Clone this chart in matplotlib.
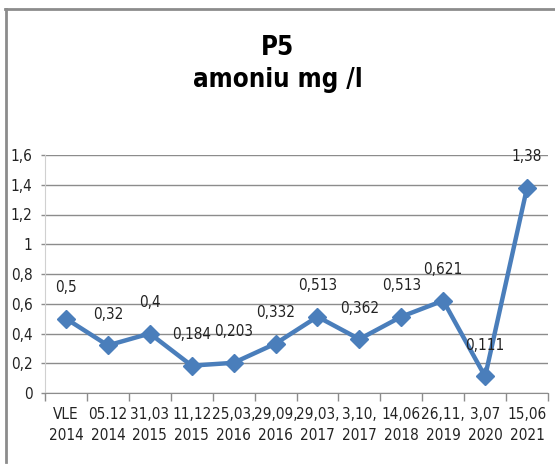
import matplotlib
matplotlib.use('Agg')
import matplotlib.pyplot as plt
from matplotlib.lines import Line2D
import numpy as np

plt.rcParams['font.family'] = ['DejaVu Sans']
plt.rcParams['font.stretch'] = 'condensed'

# date de prelevare si valori amoniu (mg/l)
dates = ['VLE\n2014', '05.12\n2014', '31,03\n2015', '11,12\n2015', '25,03,\n2016',
         '29,09,\n2016', '29,03,\n2017', '3,10,\n2017', '14,06\n2018', '26,11,\n2019',
         '3,07\n2020', '15,06\n2021']
values = [0.5, 0.32, 0.4, 0.184, 0.203, 0.332, 0.513, 0.362, 0.513, 0.621, 0.111, 1.38]
labels = ['0,5', '0,32', '0,4', '0,184', '0,203', '0,332', '0,513', '0,362', '0,513',
          '0,621', '0,111', '1,38']
yticks = [0, 0.2, 0.4, 0.6, 0.8, 1.0, 1.2, 1.4, 1.6]
ytick_labels = ['0', '0,2', '0,4', '0,6', '0,8', '1', '1,2', '1,4', '1,6']

W, H = 555, 468
fig = plt.figure(figsize=(W / 100, H / 100), dpi=100)
ax = fig.add_axes([45 / W, (H - 393) / H, (548 - 45) / W, (393 - 155) / H])

x = np.arange(len(values))
blue = '#4a7ebb'
ax.plot(x, values, color=blue, lw=3.2, marker='D', ms=9.5, mfc=blue, mec=blue, zorder=3)

for xi, v, lab in zip(x, values, labels):
    ax.annotate(lab, (xi, v), xytext=(0, 31), textcoords='offset pixels',
                ha='center', va='center', fontsize=11, color='#222222')

ax.set_xlim(-0.5, len(values) - 0.5)
ax.set_ylim(0, 1.6)
ax.set_yticks(yticks)
ax.set_yticklabels(ytick_labels)
ax.set_xticks(x)
ax.set_xticklabels(dates, linespacing=1.5)
ax.set_xticks(np.arange(-0.5, len(values)), minor=True)
ax.tick_params(axis='x', which='major', length=0, pad=10, labelsize=11, labelcolor='#222222')
ax.tick_params(axis='x', which='minor', length=6, width=1, color='#8c8c8c')
ax.tick_params(axis='y', length=3, width=1, color='#8c8c8c', pad=6, labelsize=11,
               labelcolor='#222222')

ax.grid(axis='y', color='#8c8c8c', lw=1)
ax.set_axisbelow(True)
for s in ['top', 'right']:
    ax.spines[s].set_visible(False)
ax.spines['left'].set_color('#d0d0d0')
ax.spines['bottom'].set_color('#8c8c8c')

fig.text(0.5, (H - 48) / H, 'P5', ha='center', va='center', fontsize=18.5, fontweight='bold')
fig.text(0.5, (H - 80) / H, 'amoniu mg /l', ha='center', va='center', fontsize=18.5,
         fontweight='bold')

# chenarul graficului
fig.add_artist(Line2D([5 / W, 1], [(H - 9) / H, (H - 9) / H], transform=fig.transFigure,
                      color='#8c8c8c', lw=2))
fig.add_artist(Line2D([6 / W, 6 / W], [(H - 9) / H, (H - 462) / H], transform=fig.transFigure,
                      color='#8c8c8c', lw=2))

fig.savefig('out.png', dpi=100)
